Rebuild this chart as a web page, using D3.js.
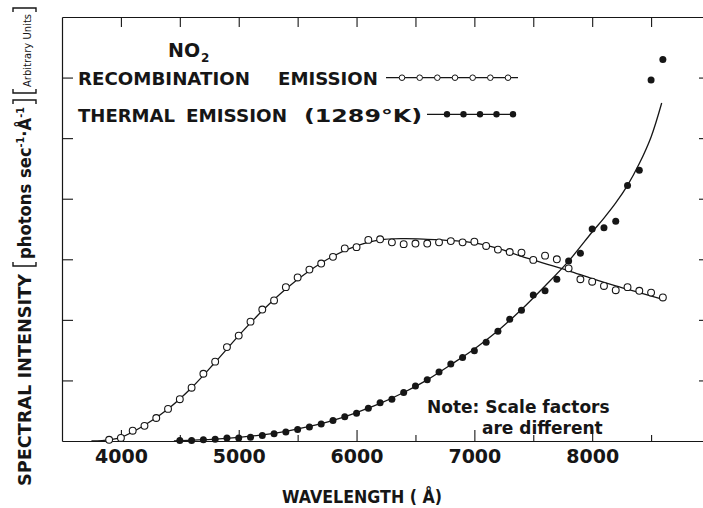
<!DOCTYPE html>
<html>
<head>
<meta charset="utf-8">
<script src="https://cdn.jsdelivr.net/npm/d3@7"></script>
<style>
  html, body { margin: 0; padding: 0; background: #fff; }
  svg { display: block; }
  text { font-family: "DejaVu Sans", sans-serif; font-weight: bold; fill: #161616; }
</style>
</head>
<body>
<svg id="chart" width="703" height="508"></svg>
<script>
// NO2 recombination emission: measured points (wavelength in Å, arbitrary units)
const recombWavelength = [3900,4000,4100,4200,4300,4400,4500,4600,4700,4800,4900,5000,5100,5200,5300,5400,5500,5600,5700,5800,5900,6000,6100,6200,6300,6400,6500,6600,6700,6800,6900,7000,7100,7200,7300,7400,7500,7600,7700,7800,7900,8000,8100,8200,8300,8400,8500,8600];
const recombIntensity = [0.02,0.05,0.17,0.25,0.38,0.53,0.69,0.88,1.11,1.31,1.55,1.74,1.97,2.17,2.32,2.54,2.70,2.83,2.93,3.04,3.18,3.20,3.32,3.33,3.28,3.25,3.26,3.26,3.28,3.30,3.28,3.29,3.22,3.16,3.12,3.11,2.99,3.06,3.00,2.85,2.67,2.63,2.56,2.49,2.54,2.48,2.45,2.37];

// smooth curve drawn through the recombination spectrum
const recombFitWavelength = [3750,3900,4000,4200,4400,4600,4800,5000,5200,5400,5600,5800,6000,6200,6400,6600,6800,7000,7200,7400,7600,7800,8000,8200,8400,8600];
const recombFitIntensity  = [0,0.02,0.06,0.26,0.53,0.88,1.30,1.74,2.15,2.51,2.81,3.05,3.22,3.32,3.34,3.33,3.31,3.27,3.18,3.05,2.93,2.81,2.68,2.56,2.45,2.34];

// thermal emission at 1289 K: measured points
const thermalWavelength = [4500,4600,4700,4800,4900,5000,5100,5200,5300,5400,5500,5600,5700,5800,5900,6000,6100,6200,6300,6400,6500,6600,6700,6800,6900,7000,7100,7200,7300,7400,7500,7600,7700,7800,7900,8000,8100,8200,8300,8400,8500,8600];
const thermalIntensity = [0.01,0.01,0.02,0.03,0.05,0.05,0.06,0.09,0.12,0.15,0.19,0.23,0.28,0.34,0.40,0.46,0.54,0.63,0.69,0.80,0.91,1.01,1.14,1.27,1.38,1.49,1.63,1.81,2.01,2.16,2.41,2.48,2.67,2.97,3.10,3.50,3.52,3.63,4.22,4.47,5.96,6.30];

// smooth curve drawn through the thermal spectrum
const thermalFitWavelength = [4450,4800,5000,5200,5400,5600,5800,6000,6200,6400,6600,6800,7000,7200,7400,7600,7800,8000,8100,8200,8300,8400,8500,8590];
const thermalFitIntensity  = [0,0.03,0.06,0.10,0.16,0.24,0.34,0.47,0.62,0.80,1.01,1.26,1.52,1.82,2.17,2.56,2.97,3.45,3.68,3.93,4.22,4.58,5.02,5.58];

// axis ticks
const xLabelTicks = [4000,5000,6000,7000,8000];
const xHalfTicks  = [4500,5500,6500,7500,8500];
const xTopTicks   = [4000,4500,5000,5500,6000,6500,7000,7500,8000,8500];
const yTicks      = [1,2,3,4,5,6];

const ink = "#161616";
const svg = d3.select("#chart");

// plot frame: 3500–9000 Å, right edge runs just past the page
const x = d3.scaleLinear().domain([3500, 9000]).range([62, 710]);
const y = d3.scaleLinear().domain([0, 7]).range([441, 17]);

function styleAxis(g) {
  g.selectAll("path.domain").attr("stroke", ink).attr("stroke-width", 1.2);
  g.selectAll(".tick line").attr("stroke", ink).attr("stroke-width", 1.1);
}

// bottom axis with labels
svg.append("g")
  .attr("transform", `translate(0,${y(0)})`)
  .call(d3.axisBottom(x).tickValues(xLabelTicks).tickSize(-11).tickSizeOuter(0).tickPadding(9).tickFormat(d3.format("d")))
  .call(styleAxis)
  .call(g => g.selectAll(".tick text")
    .attr("font-size", 19).attr("font-family", "DejaVu Sans").attr("fill", ink));

svg.append("g")
  .attr("transform", `translate(0,${y(0)})`)
  .call(d3.axisBottom(x).tickValues(xHalfTicks).tickSize(-6).tickSizeOuter(0).tickFormat(""))
  .call(styleAxis)
  .call(g => g.select("path.domain").remove());

// top edge
svg.append("g")
  .attr("transform", `translate(0,${y(7)})`)
  .call(d3.axisTop(x).tickValues(xTopTicks).tickSize(-10).tickSizeOuter(0).tickFormat(""))
  .call(styleAxis);

// left and right edges
svg.append("g")
  .attr("transform", `translate(${x(3500)},0)`)
  .call(d3.axisLeft(y).tickValues(yTicks).tickSize(-11).tickSizeOuter(0).tickFormat(""))
  .call(styleAxis);

svg.append("g")
  .attr("transform", `translate(${x(9000)},0)`)
  .call(d3.axisRight(y).tickValues(yTicks).tickSize(-11).tickSizeOuter(0).tickFormat(""))
  .call(styleAxis);

// fitted curves
const line = d3.line().x(d => x(d[0])).y(d => y(d[1])).curve(d3.curveCatmullRom.alpha(0.5));

svg.append("path")
  .datum(recombFitWavelength.map((w, i) => [w, recombFitIntensity[i]]))
  .attr("d", line).attr("fill", "none").attr("stroke", ink).attr("stroke-width", 1.3);

svg.append("path")
  .datum(thermalFitWavelength.map((w, i) => [w, thermalFitIntensity[i]]))
  .attr("d", line).attr("fill", "none").attr("stroke", ink).attr("stroke-width", 1.3);

// measured points
svg.append("g").selectAll("circle")
  .data(recombWavelength.map((w, i) => [w, recombIntensity[i]]))
  .join("circle")
  .attr("cx", d => x(d[0])).attr("cy", d => y(d[1])).attr("r", 3.4)
  .attr("fill", "#fff").attr("stroke", ink).attr("stroke-width", 1.1);

svg.append("g").selectAll("circle")
  .data(thermalWavelength.map((w, i) => [w, thermalIntensity[i]]))
  .join("circle")
  .attr("cx", d => x(d[0])).attr("cy", d => y(d[1])).attr("r", 3.5)
  .attr("fill", ink);

// legend
const legend = svg.append("g");
const no2 = legend.append("text").attr("x", 168).attr("y", 56.5).attr("font-size", 19);
no2.append("tspan").text("NO");
no2.append("tspan").attr("font-size", 12).attr("dy", 5).attr("dx", 1).text("2");

legend.append("text").attr("x", 78).attr("y", 85).attr("font-size", 18)
  .attr("textLength", 172).attr("lengthAdjust", "spacingAndGlyphs").text("RECOMBINATION");
legend.append("text").attr("x", 278).attr("y", 85).attr("font-size", 18)
  .attr("textLength", 100).attr("lengthAdjust", "spacingAndGlyphs").text("EMISSION");

legend.append("text").attr("x", 78).attr("y", 121.5).attr("font-size", 18)
  .attr("textLength", 97).attr("lengthAdjust", "spacingAndGlyphs").text("THERMAL");
legend.append("text").attr("x", 186).attr("y", 121.5).attr("font-size", 18)
  .attr("textLength", 101).attr("lengthAdjust", "spacingAndGlyphs").text("EMISSION");
legend.append("text").attr("x", 304).attr("y", 121.5).attr("font-size", 18)
  .attr("textLength", 118).attr("lengthAdjust", "spacingAndGlyphs").text("(1289°K)");

const openKey = { x0: 386, x1: 518, y: 77.7, first: 402, last: 508, count: 7 };
legend.append("line").attr("x1", openKey.x0).attr("x2", openKey.x1)
  .attr("y1", openKey.y).attr("y2", openKey.y).attr("stroke", ink).attr("stroke-width", 1.2);
legend.append("g").selectAll("circle")
  .data(d3.range(openKey.count))
  .join("circle")
  .attr("cx", i => openKey.first + i * (openKey.last - openKey.first) / (openKey.count - 1))
  .attr("cy", openKey.y).attr("r", 2.8)
  .attr("fill", "#fff").attr("stroke", ink).attr("stroke-width", 1);

const fillKey = { x0: 427, x1: 516, y: 114.3, first: 447, last: 513, count: 5 };
legend.append("line").attr("x1", fillKey.x0).attr("x2", fillKey.x1)
  .attr("y1", fillKey.y).attr("y2", fillKey.y).attr("stroke", ink).attr("stroke-width", 1.2);
legend.append("g").selectAll("circle")
  .data(d3.range(fillKey.count))
  .join("circle")
  .attr("cx", i => fillKey.first + i * (fillKey.last - fillKey.first) / (fillKey.count - 1))
  .attr("cy", fillKey.y).attr("r", 3.2).attr("fill", ink);

// note on scaling
svg.append("text").attr("x", 427).attr("y", 413).attr("font-size", 17).text("Note: Scale factors");
svg.append("text").attr("x", 482).attr("y", 433.5).attr("font-size", 17).text("are different");

// x-axis title
svg.append("text")
  .attr("x", 362).attr("y", 503).attr("text-anchor", "middle").attr("font-size", 17.5)
  .attr("textLength", 160).attr("lengthAdjust", "spacingAndGlyphs")
  .text("WAVELENGTH ( Å)");

// y-axis title, built from pieces laid along the rotated baseline
const yTitleBase = 31;
function yPiece(pos, size) {
  return svg.append("text")
    .attr("transform", `translate(${yTitleBase},${pos}) rotate(-90)`)
    .attr("font-size", size);
}
// square brackets drawn as strokes across the lettering; dir = -1 opens upward, +1 downward
function bracket(pos, dir) {
  const x0 = 13, x1 = 36, lip = 4;
  svg.append("path")
    .attr("d", `M${x0},${pos + dir * lip}L${x0},${pos}L${x1},${pos}L${x1},${pos + dir * lip}`)
    .attr("fill", "none").attr("stroke", ink).attr("stroke-width", 1.4);
}

yPiece(486, 17.5).attr("textLength", 212).attr("lengthAdjust", "spacingAndGlyphs")
  .text("SPECTRAL INTENSITY");
bracket(266, -1);
const photons = yPiece(259, 17).attr("textLength", 152).attr("lengthAdjust", "spacingAndGlyphs");
photons.append("tspan").text("photons sec");
photons.append("tspan").attr("font-size", 10).attr("dy", -7).text("-1");
photons.append("tspan").attr("dy", 7).text("·Å");
photons.append("tspan").attr("font-size", 10).attr("dy", -7).text("-1");
bracket(100, 1);
bracket(93, -1);
yPiece(87, 10).style("font-weight", "normal").text("Arbitrary Units");
bracket(8, 1);
</script>
</body>
</html>
